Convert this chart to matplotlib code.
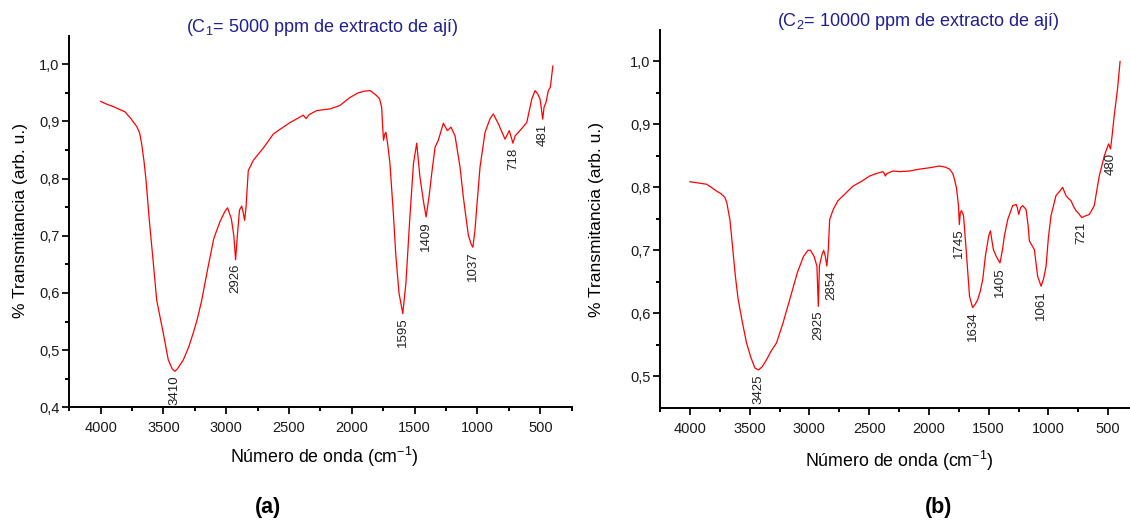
import matplotlib
matplotlib.use("Agg")
import matplotlib.pyplot as plt
from matplotlib.ticker import MultipleLocator, FixedLocator, FuncFormatter

plt.rcParams['font.family'] = ['Liberation Sans', 'DejaVu Sans']
plt.rcParams['mathtext.default'] = 'regular'

# --- FTIR spectrum, C1 = 5000 ppm ---
wn_a = [4000, 3950, 3900, 3850, 3807, 3760, 3713, 3690, 3674, 3655, 3639, 3613,
        3580, 3554, 3502, 3462, 3430, 3410, 3390, 3342, 3300, 3263, 3230, 3196,
        3150, 3100, 3050, 3010, 2990, 2960, 2940, 2926, 2912, 2895, 2877, 2865,
        2854, 2843, 2825, 2785, 2700, 2626, 2500, 2420, 2387, 2365, 2340, 2280,
        2174, 2095, 2015, 1950, 1900, 1856, 1830, 1803, 1780, 1763, 1755, 1748,
        1738, 1729, 1715, 1697, 1670, 1650, 1625, 1595, 1570, 1540, 1510, 1484,
        1458, 1430, 1409, 1385, 1365, 1338, 1312, 1272, 1240, 1211, 1179, 1139,
        1113, 1073, 1050, 1037, 1020, 1006, 980, 940, 900, 874, 834, 781, 747,
        735, 718, 700, 662, 608, 568, 542, 520, 502, 490, 481, 470, 455, 436,
        420, 400]
t_a = [0.935, 0.930, 0.926, 0.921, 0.917, 0.905, 0.891, 0.880, 0.861, 0.830,
       0.797, 0.727, 0.650, 0.587, 0.530, 0.483, 0.467, 0.463, 0.467, 0.483,
       0.505, 0.530, 0.555, 0.587, 0.640, 0.695, 0.725, 0.743, 0.749, 0.730,
       0.700, 0.658, 0.700, 0.745, 0.752, 0.740, 0.727, 0.750, 0.814, 0.832,
       0.855, 0.878, 0.897, 0.907, 0.911, 0.905, 0.912, 0.919, 0.922, 0.928,
       0.942, 0.950, 0.953, 0.954, 0.950, 0.945, 0.940, 0.925, 0.890, 0.867,
       0.878, 0.881, 0.860, 0.826, 0.739, 0.665, 0.600, 0.564, 0.617, 0.727,
       0.826, 0.862, 0.802, 0.760, 0.733, 0.770, 0.808, 0.855, 0.867, 0.897,
       0.884, 0.890, 0.875, 0.820, 0.768, 0.701, 0.685, 0.680, 0.710, 0.750,
       0.820, 0.881, 0.905, 0.913, 0.896, 0.869, 0.884, 0.875, 0.862, 0.875,
       0.884, 0.898, 0.939, 0.954, 0.948, 0.939, 0.920, 0.904, 0.925, 0.933,
       0.954, 0.960, 0.997]
bands_a = [3410, 2926, 1595, 1409, 1037, 718, 481]

# --- FTIR spectrum, C2 = 10000 ppm ---
wn_b = [4000, 3930, 3860, 3820, 3776, 3740, 3707, 3690, 3679, 3665, 3640, 3620,
        3596, 3560, 3526, 3490, 3456, 3425, 3395, 3359, 3320, 3275, 3220, 3164,
        3100, 3050, 3013, 2990, 2960, 2937, 2925, 2916, 2895, 2880, 2866, 2854,
        2842, 2830, 2800, 2760, 2700, 2635, 2560, 2496, 2440, 2385, 2372, 2365,
        2350, 2301, 2245, 2161, 2078, 2000, 1911, 1860, 1827, 1800, 1786, 1770,
        1758, 1752, 1745, 1737, 1727, 1710, 1688, 1660, 1634, 1610, 1591, 1570,
        1549, 1527, 1499, 1485, 1472, 1460, 1435, 1405, 1385, 1368, 1340, 1299,
        1270, 1260, 1248, 1232, 1215, 1187, 1170, 1159, 1117, 1090, 1061, 1040,
        1019, 1000, 978, 936, 900, 881, 870, 853, 830, 811, 790, 769, 740, 721,
        700, 657, 616, 595, 574, 532, 510, 496, 480, 465, 449, 421, 400]
t_b = [0.809, 0.807, 0.805, 0.800, 0.794, 0.790, 0.784, 0.775, 0.763, 0.749,
       0.700, 0.660, 0.622, 0.585, 0.553, 0.530, 0.513, 0.510, 0.515, 0.526,
       0.540, 0.553, 0.585, 0.622, 0.665, 0.690, 0.700, 0.700, 0.690, 0.675,
       0.611, 0.675, 0.693, 0.700, 0.690, 0.675, 0.700, 0.749, 0.765, 0.779,
       0.790, 0.802, 0.810, 0.818, 0.822, 0.825, 0.822, 0.818, 0.822, 0.826,
       0.825, 0.826, 0.829, 0.831, 0.834, 0.832, 0.829, 0.822, 0.813, 0.800,
       0.781, 0.770, 0.741, 0.760, 0.763, 0.755, 0.701, 0.627, 0.609, 0.615,
       0.622, 0.635, 0.654, 0.691, 0.723, 0.731, 0.715, 0.701, 0.690, 0.680,
       0.700, 0.723, 0.749, 0.771, 0.773, 0.768, 0.757, 0.768, 0.771, 0.765,
       0.740, 0.715, 0.701, 0.659, 0.643, 0.655, 0.675, 0.720, 0.755, 0.787,
       0.795, 0.800, 0.795, 0.787, 0.782, 0.779, 0.770, 0.763, 0.757, 0.752,
       0.754, 0.757, 0.771, 0.795, 0.818, 0.850, 0.862, 0.869, 0.861, 0.885,
       0.914, 0.957, 1.000]
bands_b = [3425, 2925, 2854, 1745, 1634, 1405, 1061, 721, 480]

W, H = 1130, 520
fig = plt.figure(figsize=(W / 100, H / 100), dpi=100)
ax_a = fig.add_axes([69.3 / W, 1 - 407.3 / H, 502.4 / W, 371.6 / H])
ax_b = fig.add_axes([660 / W, 1 - 407.7 / H, 478 / W, 377.7 / H])

comma = FuncFormatter(lambda v, p: f"{v:.1f}".replace(".", ","))


def style(ax, ylim, yminor):
    ax.set_xlim(4250, 250)
    ax.set_ylim(*ylim)
    ax.xaxis.set_major_locator(MultipleLocator(500))
    ax.xaxis.set_minor_locator(MultipleLocator(250))
    ax.yaxis.set_major_locator(MultipleLocator(0.1))
    ax.yaxis.set_minor_locator(FixedLocator(yminor))
    ax.yaxis.set_major_formatter(comma)
    ax.spines["top"].set_visible(False)
    ax.spines["right"].set_visible(False)
    for s in ("left", "bottom"):
        ax.spines[s].set_linewidth(1.4)
    ax.tick_params(which="major", direction="out", length=5, width=1.4,
                   labelsize=10.5, colors="#1a1a1a", pad=2)
    ax.tick_params(axis="x", which="major", pad=5)
    ax.tick_params(which="minor", direction="out", length=3, width=1.4)


# small sideways nudges (points) for labels that would touch the trace
nudge = {2854: 3}


def spectrum(ax, wn, t, bands):
    ax.plot(wn, t, color="#ff0000", lw=0.9)
    for b in bands:
        ax.annotate(str(b), xy=(b, t[wn.index(b)]), xytext=(nudge.get(b, 0), -3),
                    textcoords="offset points", rotation=90,
                    ha="center", va="top", fontsize=9.5, color="#222222")


style(ax_a, (0.4, 1.05), [0.45, 0.55, 0.65, 0.75, 0.85, 0.95])
style(ax_b, (0.45, 1.05), [0.55, 0.65, 0.75, 0.85, 0.95])
spectrum(ax_a, wn_a, t_a, bands_a)
spectrum(ax_b, wn_b, t_b, bands_b)

title_color = "#1f1f8f"
fig.text(322 / W, 1 - 27 / H, "(C$_1$= 5000 ppm de extracto de ají)",
         ha="center", va="center", fontsize=13, color=title_color)
fig.text(918 / W, 1 - 22 / H, "(C$_2$= 10000 ppm de extracto de ají)",
         ha="center", va="center", fontsize=13, color=title_color)

for x, y in ((21, 221), (597, 219)):
    fig.text(x / W, 1 - y / H, "% Transmitancia (arb. u.)", rotation=90,
             ha="center", va="center", fontsize=12.5)
for x, y in ((324, 457), (899, 461)):
    fig.text(x / W, 1 - y / H, "Número de onda (cm$^{-1}$)",
             ha="center", va="center", fontsize=12.8)

fig.text(268 / W, 1 - 507 / H, "(a)", ha="center", va="center",
         fontsize=15.5, fontweight="bold")
fig.text(939 / W, 1 - 507 / H, "(b)", ha="center", va="center",
         fontsize=15.5, fontweight="bold")

fig.savefig("out.png", dpi=100)
